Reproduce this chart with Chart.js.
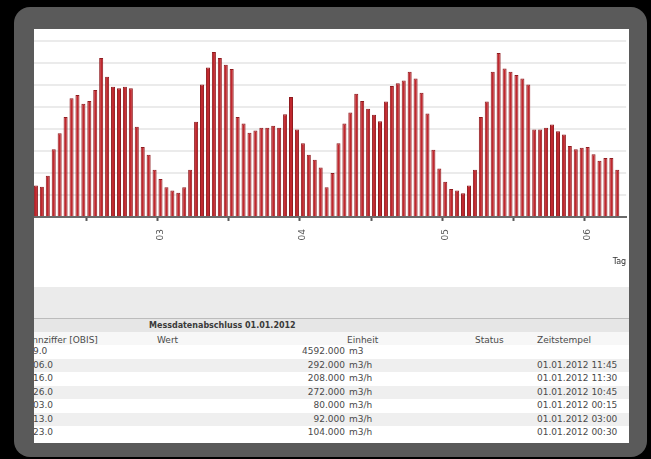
<!DOCTYPE html>
<html>
<head>
<meta charset="utf-8">
<script src="https://cdn.jsdelivr.net/npm/chart.js@4/dist/chart.umd.min.js"></script>
<style>
  html, body { margin:0; padding:0; background:#000; width:651px; height:459px; overflow:hidden; }
  #frame { position:absolute; left:14px; top:7px; width:633px; height:450px; background:#5a5a5a; border-radius:16px; }
  #panel { position:absolute; left:34px; top:29px; width:595px; height:414px; background:#fff; overflow:hidden;
           font-family:"DejaVu Sans", Verdana, sans-serif; font-size:9px; color:#4a4a4a; }
  #c { position:absolute; left:-6px; top:0; }
  .abs { position:absolute; white-space:nowrap; }
  .row { position:absolute; left:0; width:595px; height:13.5px; }
  .cell { position:absolute; top:0; line-height:13.5px; white-space:nowrap; }
</style>
</head>
<body>
<div id="frame"></div>
<div id="panel">
  <canvas id="c" width="614" height="258"></canvas>
  <div class="abs" style="left:0;top:258px;width:595px;height:31px;background:#ebebeb;"></div>
  <div class="abs" style="left:0;top:289px;width:595px;height:1px;background:#bcbcbc;"></div>
  <div class="abs" style="left:0;top:290px;width:595px;height:13px;background:#e6e6e6;"></div>
  <div class="abs" style="left:115px;top:290px;line-height:13px;font-size:8px;font-weight:bold;color:#3a3a3a;">Messdatenabschluss 01.01.2012</div>
  <div class="abs" style="left:0;top:303px;width:595px;height:1px;background:#9a9a9a;"></div>
  <div id="table"></div>
</div>
<script>
// ---- chart data (m3/h per hour) ----
const days = ['02', '03', '04', '05', '06'];
const startHour = 3;
const hourlyFlow = [
  57, 55, 75, 123, 152, 182, 216, 222, 206, 211, 231, 289, 255, 237, 234, 237, 234, 164, 127, 113, 86,
  69, 54, 48, 44, 54, 86, 173, 241, 272, 300, 289, 277, 269, 182, 170, 153, 157, 162, 162, 166, 162, 187, 218,
  159, 134, 113, 104, 90, 54, 80, 134, 170, 190, 224, 211, 197, 186, 174, 210, 238, 243, 248, 264, 252, 226, 188, 122,
  88, 64, 51, 48, 43, 57, 86, 182, 210, 264, 298, 270, 264, 258, 252, 241, 159, 159, 162, 168, 156, 150, 129, 123,
  126, 127, 114, 102, 107, 107, 86
];
const slotCount = 100;
const yTickStep = 40;
const yMax = 320;
const xAxisTitle = 'Tag';

// ---- table data ----
const obisCodes = ['9.0', '06.0', '16.0', '26.0', '03.0', '13.0', '23.0'];
const tableValues = ['4592.000', '292.000', '208.000', '272.000', '80.000', '92.000', '104.000'];
const tableUnits = ['m3', 'm3/h', 'm3/h', 'm3/h', 'm3/h', 'm3/h', 'm3/h'];
const tableStatus = ['', '', '', '', '', '', ''];
const tableTimes = ['', '01.01.2012 11:45', '01.01.2012 11:30', '01.01.2012 10:45', '01.01.2012 00:15', '01.01.2012 03:00', '01.01.2012 00:30'];
const tableHeaders = ['Kennziffer [OBIS]', 'Wert', 'Einheit', 'Status', 'Zeitstempel'];

// category labels: day/hour for each hourly slot
const labels = [];
for (let i = 0; i < slotCount; i++) {
  const h = startHour + i;
  labels.push(days[Math.floor(h / 24)] + ' ' + String(h % 24).padStart(2, '0') + ':00');
}

// ---- build table ----
(function () {
  const t = document.getElementById('table');
  let html = '';
  html += '<div class="row" style="top:303px;height:13px;background:#f7f7f7;">' +
    '<div class="cell" style="left:-12.7px;line-height:16px;">' + tableHeaders[0] + '</div>' +
    '<div class="cell" style="left:123px;line-height:16px;">' + tableHeaders[1] + '</div>' +
    '<div class="cell" style="left:313px;line-height:16px;">' + tableHeaders[2] + '</div>' +
    '<div class="cell" style="left:441px;line-height:16px;">' + tableHeaders[3] + '</div>' +
    '<div class="cell" style="left:503px;line-height:16px;">' + tableHeaders[4] + '</div></div>';
  for (let i = 0; i < obisCodes.length; i++) {
    const top = 316 + i * 13.5;
    const bg = (i % 2 === 1) ? '#efefef' : '#ffffff';
    html += '<div class="row" style="top:' + top + 'px;background:' + bg + ';">' +
      '<div class="cell" style="left:-1px;">' + obisCodes[i] + '</div>' +
      '<div class="cell" style="right:284px;">' + tableValues[i] + '</div>' +
      '<div class="cell" style="left:315px;">' + tableUnits[i] + '</div>' +
      '<div class="cell" style="left:441px;">' + tableStatus[i] + '</div>' +
      '<div class="cell" style="left:503px;">' + tableTimes[i] + '</div></div>';
  }
  t.innerHTML = html;
})();

// ---- chart ----
Chart.defaults.font.family = '"DejaVu Sans", Verdana, sans-serif';
new Chart(document.getElementById('c'), {
  type: 'bar',
  data: {
    labels: labels,
    datasets: [{
      label: 'Durchfluss',
      data: hourlyFlow,
      backgroundColor: '#c0272d',
      borderColor: '#8f1b1f',
      borderWidth: { left: 1, right: 1, top: 1, bottom: 0 },
      borderSkipped: 'bottom',
      barPercentage: 0.68,
      categoryPercentage: 1.0
    }]
  },
  options: {
    responsive: false,
    devicePixelRatio: 1,
    animation: false,
    layout: { padding: { top: 12, right: 2, bottom: 20, left: 0 } },
    plugins: { legend: { display: false }, tooltip: { enabled: false } },
    scales: {
      x: {
        type: 'category',
        offset: true,
        grid: {
          display: true,
          offset: true,
          drawOnChartArea: false,
          tickLength: 4,
          tickWidth: 2,
          tickColor: (ctx) => ((ctx.index + startHour) % 12 === 0 ? '#555' : 'rgba(0,0,0,0)')
        },
        border: { display: true, color: '#6a6a6a', width: 2 },
        ticks: {
          autoSkip: false,
          minRotation: 90,
          maxRotation: 90,
          padding: 8,
          color: '#555',
          font: { size: 9 },
          callback: function (v, i) {
            const h = startHour + i;
            return (h % 24 === 0) ? days[Math.floor(h / 24)] : '';
          }
        },
        title: {
          display: true,
          text: xAxisTitle,
          align: 'end',
          color: '#333',
          font: { size: 8 },
          padding: { top: 9, bottom: 0 }
        }
      },
      y: {
        min: 0,
        max: yMax,
        ticks: { display: false, stepSize: yTickStep },
        grid: { color: '#ebebeb', lineWidth: 2, drawTicks: false },
        border: { display: false }
      }
    }
  }
});
</script>
</body>
</html>
